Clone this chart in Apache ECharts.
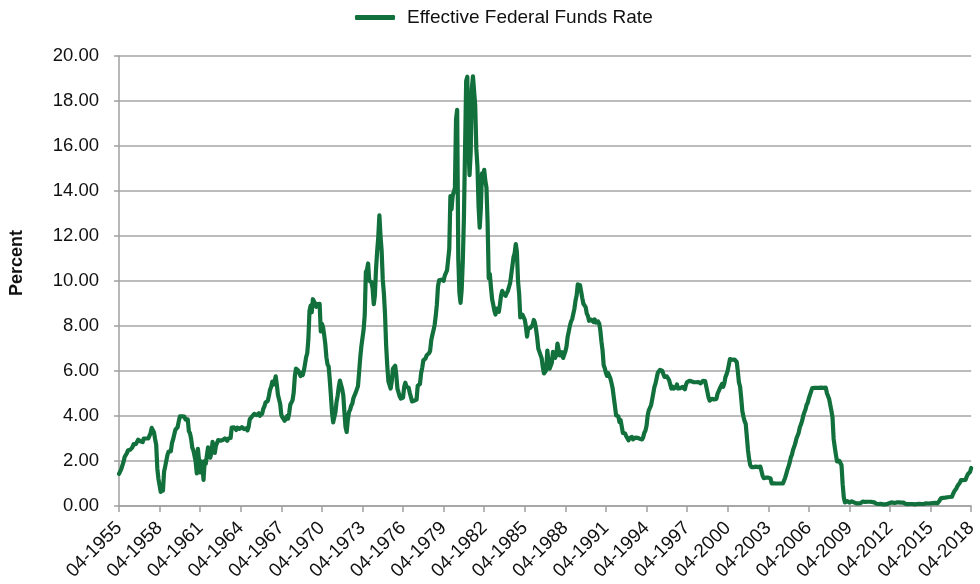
<!DOCTYPE html>
<html><head><meta charset="utf-8">
<script src="https://cdn.jsdelivr.net/npm/echarts@6/dist/echarts.min.js"></script>
<style>html,body{margin:0;padding:0;background:#fff}#c{width:980px;height:584px}</style>
</head><body><div id="c"></div>
<script>
// Monthly effective federal funds rate, Apr 1955 .. Apr 2018
const startYear = 1955, startMonth = 4;
const rates1950s = [
  1.43,1.43,1.64,1.68,1.96,2.18,2.24,2.35,2.48,
  2.45,2.50,2.50,2.62,2.75,2.71,2.75,2.73,2.95,2.96,2.88,2.94,
  2.84,3.00,2.96,3.00,3.00,3.00,2.99,3.24,3.47,3.50,3.28,2.98,
  2.72,1.67,1.20,1.26,0.63,0.93,0.68,1.53,1.76,1.80,2.27,2.42,
  2.48,2.43,2.80,2.96,2.90,3.39,3.47,3.50,3.76,3.98,4.00,3.99
];
const rates1960s = [
  3.99,3.97,3.84,3.92,3.85,3.32,3.23,2.98,2.60,2.47,2.44,1.98,
  1.45,2.54,2.02,1.49,1.98,1.73,1.16,2.00,1.88,2.26,2.61,2.33,
  2.15,2.37,2.85,2.78,2.36,2.68,2.71,2.93,2.90,2.90,2.94,2.93,
  2.92,3.00,2.98,2.90,3.00,2.99,3.02,3.49,3.48,3.50,3.48,3.38,
  3.48,3.48,3.43,3.47,3.50,3.50,3.42,3.50,3.45,3.36,3.52,3.85,
  3.90,3.98,4.04,4.09,4.10,4.04,4.09,4.12,4.01,4.08,4.10,4.32,
  4.42,4.60,4.65,4.67,4.90,5.17,5.30,5.53,5.40,5.53,5.76,5.40,
  4.94,5.00,4.53,4.05,3.94,3.98,3.79,3.90,3.99,3.88,4.13,4.51,
  4.60,4.71,5.05,5.76,6.11,6.07,6.02,6.03,5.78,5.91,5.82,6.02,
  6.30,6.61,6.79,7.41,8.67,8.90,8.61,9.19,9.15,9.00,8.85,8.97
];
const rates1970s = [
  8.98,8.98,7.76,8.10,7.95,7.61,7.21,6.61,6.29,6.20,5.60,4.90,
  4.14,3.72,3.71,4.16,4.63,4.91,5.31,5.57,5.55,5.20,4.91,4.14,
  3.50,3.29,3.83,4.17,4.27,4.46,4.55,4.80,4.87,5.04,5.06,5.33,
  5.94,6.58,7.09,7.12,7.84,8.49,10.40,10.50,10.78,10.01,10.03,9.95,
  9.65,8.97,9.35,10.51,11.31,11.93,12.92,12.01,11.34,10.06,9.45,8.53,
  7.13,6.24,5.54,5.49,5.22,5.55,6.10,6.14,6.24,5.82,5.22,5.20,
  4.87,4.77,4.84,4.82,5.29,5.48,5.31,5.29,5.25,5.02,4.95,4.65,
  4.61,4.68,4.69,4.73,5.35,5.39,5.42,5.90,6.14,6.47,6.51,6.56,
  6.70,6.78,6.79,6.89,7.36,7.60,7.81,8.04,8.45,8.96,9.76,10.03,
  10.07,10.06,10.09,10.01,10.24,10.29,10.47,10.94,11.43,13.77,13.18,13.78
];
const rates1980s = [
  13.82,14.13,17.19,17.61,10.98,9.47,9.03,9.61,10.87,12.81,15.85,18.90,
  19.08,15.93,14.70,15.72,18.52,19.10,19.04,17.82,15.87,15.08,13.31,12.37,
  13.22,14.78,14.68,14.94,14.45,14.15,12.59,10.12,10.31,9.71,9.20,8.95,
  8.68,8.51,8.77,8.80,8.63,8.98,9.37,9.56,9.45,9.48,9.34,9.47,
  9.56,9.59,9.91,10.29,10.32,11.06,11.23,11.64,11.30,9.99,9.43,8.38,
  8.35,8.50,8.58,8.27,7.97,7.53,7.88,7.90,7.92,7.99,8.05,8.27,
  8.14,7.86,7.48,6.99,6.85,6.92,6.56,6.17,5.89,5.85,6.04,6.91,
  6.43,6.10,6.13,6.37,6.85,6.73,6.58,6.73,7.22,7.29,6.69,6.77,
  6.83,6.58,6.58,6.87,7.09,7.51,7.75,8.01,8.19,8.30,8.35,8.76,
  9.12,9.36,9.85,9.84,9.81,9.53,9.24,8.99,9.02,8.84,8.55,8.45
];
const rates1990s = [
  8.23,8.24,8.28,8.26,8.18,8.29,8.15,8.13,8.20,8.11,7.81,7.31,
  6.91,6.25,6.12,5.91,5.78,5.90,5.82,5.66,5.45,5.21,4.81,4.43,
  4.03,4.06,3.98,3.73,3.82,3.76,3.25,3.30,3.22,3.10,3.09,2.92,
  3.02,3.03,3.07,2.96,3.00,3.04,3.06,3.03,3.09,2.99,3.02,2.96,
  3.05,3.25,3.34,3.56,4.01,4.25,4.26,4.47,4.73,4.76,5.29,5.45,
  5.53,5.92,5.98,6.05,6.01,6.00,5.85,5.74,5.80,5.76,5.80,5.60,
  5.56,5.22,5.31,5.22,5.24,5.27,5.40,5.22,5.30,5.24,5.31,5.29,
  5.25,5.19,5.39,5.51,5.50,5.56,5.52,5.54,5.54,5.50,5.52,5.50,
  5.56,5.51,5.49,5.45,5.49,5.56,5.54,5.55,5.51,5.07,4.83,4.68,
  4.63,4.76,4.81,4.74,4.74,4.76,4.99,5.07,5.22,5.20,5.42,5.30
];
const rates2000s = [
  5.45,5.73,5.85,6.02,6.27,6.53,6.54,6.50,6.52,6.51,6.51,6.40,
  5.98,5.49,5.31,4.80,4.21,3.97,3.77,3.65,3.07,2.49,2.09,1.82,
  1.73,1.74,1.73,1.75,1.75,1.75,1.73,1.74,1.75,1.75,1.34,1.24,
  1.24,1.26,1.25,1.26,1.26,1.22,1.01,1.03,1.01,1.01,1.00,0.98,
  1.00,1.01,1.00,1.00,1.00,1.03,1.26,1.43,1.61,1.76,1.93,2.16,
  2.28,2.50,2.63,2.79,3.00,3.04,3.26,3.50,3.62,3.78,4.00,4.16,
  4.29,4.49,4.59,4.79,4.94,4.99,5.24,5.25,5.25,5.25,5.25,5.24,
  5.25,5.26,5.26,5.25,5.25,5.25,5.26,5.02,4.94,4.76,4.49,4.24,
  3.94,2.98,2.61,2.28,1.98,2.00,2.01,2.00,1.81,0.97,0.39,0.16,
  0.15,0.22,0.18,0.15,0.18,0.21,0.16,0.16,0.15,0.12,0.12,0.12
];
const rates2010s = [
  0.11,0.13,0.16,0.20,0.20,0.18,0.18,0.19,0.19,0.19,0.19,0.18,
  0.17,0.16,0.14,0.10,0.09,0.09,0.07,0.10,0.08,0.07,0.08,0.07,
  0.08,0.10,0.13,0.14,0.16,0.16,0.16,0.13,0.14,0.16,0.16,0.16,
  0.14,0.15,0.14,0.15,0.11,0.09,0.09,0.08,0.08,0.09,0.08,0.09,
  0.07,0.07,0.08,0.09,0.09,0.10,0.09,0.09,0.09,0.09,0.09,0.12,
  0.11,0.11,0.11,0.12,0.12,0.13,0.13,0.14,0.14,0.12,0.12,0.24,
  0.34,0.38,0.36,0.37,0.37,0.38,0.39,0.40,0.40,0.40,0.41,0.54,
  0.65,0.66,0.79,0.90,0.91,1.04,1.15,1.16,1.15,1.15,1.16,1.30,
  1.41,1.42,1.51,1.69
];
const yTicks = [0,2,4,6,8,10,12,14,16,18,20];

const rates = [].concat(rates1950s, rates1960s, rates1970s, rates1980s, rates1990s, rates2000s, rates2010s);
const categories = rates.map((v, i) => {
  const m0 = startMonth - 1 + i;
  const y = startYear + Math.floor(m0 / 12);
  const m = (m0 % 12) + 1;
  return (m < 10 ? '0' + m : '' + m) + '-' + y;
});

const chart = echarts.init(document.getElementById('c'));
const font = 'Liberation Sans, Arial, sans-serif';
chart.setOption({
  animation: false,
  textStyle: { fontFamily: font },
  legend: {
    top: 3, left: 350,
    icon: 'roundRect', itemWidth: 40, itemHeight: 5, itemGap: 10,
    textStyle: { fontSize: 19, color: '#111', fontFamily: font, padding: [0,0,0,7] },
    data: ['Effective Federal Funds Rate']
  },
  grid: { left: 117, right: 7, top: 56, bottom: 78, containLabel: false },
  xAxis: {
    type: 'category', data: categories, boundaryGap: false,
    axisLine: { lineStyle: { color: '#a0a0a0', width: 1.5 } },
    axisTick: { show: true, interval: 35, length: 6, lineStyle: { color: '#a0a0a0', width: 1.5 } },
    axisLabel: { interval: 35, rotate: 45, fontSize: 19, color: '#111', fontFamily: font, margin: 19 },
    splitLine: { show: false }
  },
  yAxis: {
    type: 'value', min: yTicks[0], max: yTicks[yTicks.length - 1], interval: 2,
    name: 'Percent', nameLocation: 'middle', nameGap: 93,
    nameTextStyle: { fontSize: 18, fontWeight: 'bold', color: '#111', fontFamily: font, padding: [0,0,0,36] },
    axisLine: { show: true, lineStyle: { color: '#a0a0a0', width: 1.5 } },
    axisTick: { show: true, length: 5, lineStyle: { color: '#a0a0a0', width: 1.5 } },
    axisLabel: { fontSize: 18.5, color: '#111', fontFamily: font, margin: 20, formatter: v => v.toFixed(2) },
    splitLine: { show: true, lineStyle: { color: '#a6a6a6', width: 1.5 } }
  },
  series: [{
    name: 'Effective Federal Funds Rate', type: 'line', data: rates,
    symbol: 'none', showSymbol: false,
    lineStyle: { color: '#11703b', width: 4.2, join: 'round', cap: 'round' },
    itemStyle: { color: '#11703b' }
  }]
});
</script></body></html>
